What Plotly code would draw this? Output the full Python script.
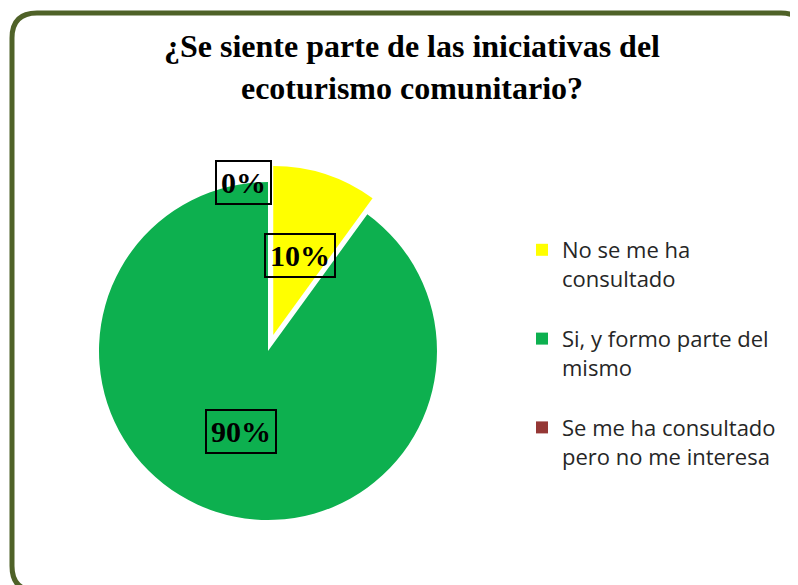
import plotly.graph_objects as go

W, H = 798, 585
OFF = 8  # page body margin

categories = ["No se me ha<br>consultado<br> ",
              "Si, y formo parte del<br>mismo<br> ",
              "Se me ha consultado<br>pero no me interesa"]
values = [10, 90, 0]
colors = ["#FFFF00", "#0DB04F", "#953735"]
title_text = "¿Se siente parte de las iniciativas del<br>ecoturismo comunitario?"

total = sum(values)
pct_labels = [f"{v / total * 100:.0f}%" for v in values]

def px(x):
    return (x - OFF) / W

def py(y):
    return 1 - (y - OFF) / H

# pie geometry (page pixels)
cx, cy, r, pull = 268, 351, 169, 0.1
half = r * (1 + pull)

fig = go.Figure()
fig.add_trace(go.Pie(
    labels=categories,
    values=values,
    sort=False,
    direction="clockwise",
    rotation=0,
    pull=[pull, 0, 0],
    marker=dict(colors=colors, line=dict(width=0)),
    textinfo="none",
    hoverinfo="label+percent",
    domain=dict(x=[px(cx - half), px(cx + half)], y=[py(cy + half), py(cy - half)]),
))

# data labels (boxed)
label_pos = [(300, 255), (241, 431), (243, 182)]
for (lx, ly), t in zip(label_pos, pct_labels):
    fig.add_annotation(
        x=px(lx), y=py(ly), xref="paper", yref="paper",
        text=f"<b>{t}</b>", showarrow=False,
        font=dict(family="Liberation Serif", size=30, color="black"),
        bordercolor="black", borderwidth=2, borderpad=4,
        xanchor="center", yanchor="middle",
    )

# rounded border
x0, y0, x1, y1, rr = 12, 13, 806, 591, 25
path = (f"M {px(x0 + rr)},{py(y0)} L {px(x1 - rr)},{py(y0)} "
        f"Q {px(x1)},{py(y0)} {px(x1)},{py(y0 + rr)} "
        f"L {px(x1)},{py(y1 - rr)} Q {px(x1)},{py(y1)} {px(x1 - rr)},{py(y1)} "
        f"L {px(x0 + rr)},{py(y1)} Q {px(x0)},{py(y1)} {px(x0)},{py(y1 - rr)} "
        f"L {px(x0)},{py(y0 + rr)} Q {px(x0)},{py(y0)} {px(x0 + rr)},{py(y0)} Z")
fig.add_shape(type="path", path=path, xref="paper", yref="paper",
              line=dict(color="#4F6228", width=5), layer="above")

fig.update_layout(
    width=W, height=H,
    margin=dict(l=0, r=0, t=0, b=0),
    paper_bgcolor="white",
    plot_bgcolor="white",
    title=dict(text=f"<b>{title_text}</b>", x=px(412), xanchor="center",
               y=py(57), yanchor="top",
               font=dict(family="Liberation Serif", size=32, color="black")),
    legend=dict(x=px(522), y=py(229), xanchor="left", yanchor="top",
                valign="top", font=dict(family="Open Sans", size=22, color="#262626"),
                itemwidth=30, tracegroupgap=0),
    showlegend=True,
)

fig.write_html("out.html")
